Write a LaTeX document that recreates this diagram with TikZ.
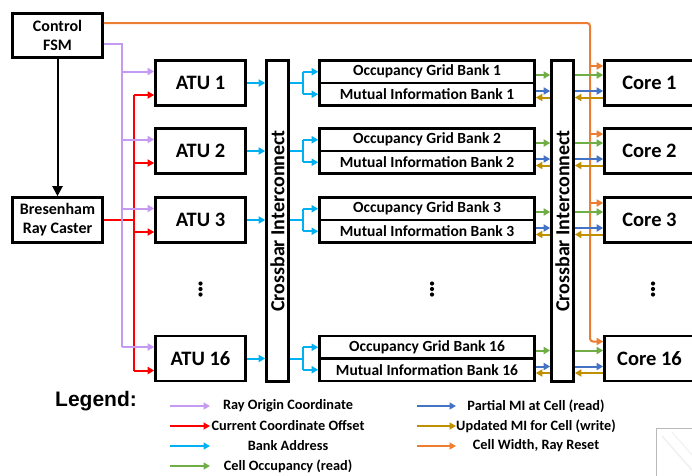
\documentclass[tikz,border=0pt]{standalone}
\usepackage{fontspec}
\setmainfont{Carlito}
\newfontfamily\legendfont{Liberation Sans}
\usetikzlibrary{arrows.meta,calc}

% signal colours
\definecolor{rayc}{HTML}{C49AF2}
\definecolor{offc}{HTML}{FF0000}
\definecolor{bankc}{HTML}{00B0F0}
\definecolor{occc}{HTML}{70AD47}
\definecolor{mibc}{HTML}{4472C4}
\definecolor{updc}{HTML}{BF9000}
\definecolor{rstc}{HTML}{ED7D31}

\begin{document}
\begin{tikzpicture}[x=1pt,y=-1pt,
  blk/.style={draw, line width=2.6pt, fill=white, inner sep=0pt,
              font=\bfseries\fontsize{20.5}{22}\selectfont},
  ctl/.style={blk, align=center, font=\bfseries\fontsize{16}{19}\selectfont},
  bankbox/.style={blk, minimum width=215, minimum height=22.5,
              font=\bfseries\fontsize{15.5}{17}\selectfont},
  xbar/.style={blk, minimum width=22, minimum height=321},
  xlabel/.style={rotate=90, font=\bfseries\fontsize{20}{21}\selectfont},
  sig/.style={line width=2pt},
  arr/.style={sig, -{Triangle[length=6.5pt,width=7pt]}},
  legtext/.style={font=\bfseries\fontsize{14.3}{16}\selectfont},
  dotmark/.style={fill=black, draw=none},
]
\clip (0,0) rectangle (692,475);
\useasboundingbox (0,0) rectangle (692,475);

% ---- control blocks
\node[ctl, minimum width=90, minimum height=44] (fsm) at (57.5,35.5) {Control\\FSM};
\node[ctl, minimum width=90, minimum height=45] (bres) at (57.5,220) {Bresenham\\Ray Caster};

% ---- address translation units
\foreach \k/\y in {1/83, 2/151, 3/220, 16/358.5} {
  \node[blk, minimum width=90, minimum height=45] (atu\k) at (200.5,\y) {ATU \k};
}

% ---- crossbars
\node[xbar] (xb1) at (277.5,221) {};
\node[xlabel] at (xb1.center) {Crossbar Interconnect};
\node[xbar] (xb2) at (562.5,221) {};
\node[xlabel] at (xb2.center) {Crossbar Interconnect};

% ---- memory banks and cores
\foreach \k/\y in {1/83, 2/151, 3/220, 16/358.5} {
  \node[bankbox] (og\k) at (427,\y-11.25) {Occupancy Grid Bank \k};
  \node[bankbox] (mi\k) at (427,\y+11.25) {Mutual Information Bank \k};
  \node[blk, minimum width=94, minimum height=45] (core\k) at (651.5,\y) {\hspace*{-4pt}Core \k};
}

% ---- cell width / ray reset (drawn first so other wires cross above it)
\foreach \k in {1,2,3,16}
  \coordinate (o\k) at ($(core\k.west)+(0,-17)$);
\coordinate (obus) at (590,0);
\draw[arr,rstc,rounded corners=3pt] ($(fsm.east)+(0,-12.5)$) -| (o16 -| obus) -- (o16);
\foreach \k in {1,2,3}
  \draw[arr,rstc] (o\k -| obus) -- (o\k);

% ---- FSM to ray caster
\draw[sig,-{Triangle[length=10pt,width=10pt]}] (fsm.south) -- (bres.north);

% ---- current coordinate offset bus
\coordinate (rbus) at (134,0);
\foreach \k in {1,2,3,16} {
  \coordinate (r\k) at ($(atu\k.west)+(0,12)$);
  \draw[arr,offc] (r\k -| rbus) -- (r\k);
}
\draw[sig,offc] (r1 -| rbus) -- (r16 -| rbus);
\draw[sig,offc] (bres.east) -- (bres.east -| rbus);

% ---- ray origin bus
\coordinate (pbus) at (122,0);
\foreach \k in {1,2,3,16} {
  \coordinate (p\k) at ($(atu\k.west)+(0,-11.5)$);
  \draw[arr,rayc] (p\k -| pbus) -- (p\k);
}
\draw[sig,rayc] ($(fsm.east)+(0,8.5)$) -| (p16 -| pbus);

% ---- bank addresses
\foreach \k in {1,2,3,16} {
  \draw[arr,bankc] (atu\k.east) -- (atu\k.east -| xb1.west);
  \draw[sig,bankc] (atu\k.east -| xb1.east) -- ++(13,0) coordinate (s\k);
  \draw[sig,bankc] (s\k |- og\k.west) -- (s\k |- mi\k.west);
  \draw[arr,bankc] (s\k |- og\k.west) -- (og\k.west);
  \draw[arr,bankc] (s\k |- mi\k.west) -- (mi\k.west);
}

% ---- bank data to and from cores
\foreach \k in {1,2,3,16} {
  \coordinate (g\k) at ($(atu\k.center)+(0,-8)$);
  \draw[arr,occc] (g\k -| og\k.east) -- (g\k -| xb2.west);
  \draw[arr,occc] (g\k -| xb2.east) -- (g\k -| core\k.west);
  \coordinate (b\k) at ($(atu\k.center)+(0,8)$);
  \draw[arr,mibc] (b\k -| mi\k.east) -- (b\k -| xb2.west);
  \draw[arr,mibc] (b\k -| xb2.east) -- (b\k -| core\k.west);
  \coordinate (u\k) at ($(atu\k.center)+(0,14.5)$);
  \draw[arr,updc] (u\k -| xb2.west) -- (u\k -| mi\k.east);
  \draw[arr,updc] (u\k -| core\k.west) -- (u\k -| xb2.east);
}

% ---- elision dots
\foreach \x in {200.5,432,653}
  \foreach \y in {283.5,289,294.5}
    \fill[dotmark] (\x,\y) circle (2.1);

% ---- legend
\node[font=\legendfont\bfseries\fontsize{21}{23}\selectfont] (legend) at (96,401) {Legend:};
\foreach \i/\c/\y/\t in {1/rayc/406/Ray Origin Coordinate,
                         2/offc/426/Current Coordinate Offset,
                         3/bankc/446/Bank Address,
                         4/occc/466/Cell Occupancy (read)} {
  \coordinate (la\i) at (170,\y);
  \coordinate (lb\i) at (210,\y);
  \draw[arr,\c] (la\i) -- (lb\i);
  \node[legtext] (lt\i) at (288,\y) {\t};
}
\foreach \i/\c/\y/\t in {5/mibc/406/Partial MI at Cell (read),
                         6/updc/426/Updated MI for Cell (write),
                         7/rstc/446/{Cell Width, Ray Reset}} {
  \coordinate (la\i) at (417,\y);
  \coordinate (lb\i) at (456,\y);
  \draw[arr,\c] (la\i) -- (lb\i);
  \node[legtext] (lt\i) at (536,\y) {\t};
}

% ---- edge of a neighbouring panel
\draw[gray!55, line width=1pt] (656.5,428.5) rectangle (700,480);
\draw[gray!12, line width=1.5pt] (662,436) -- (692,470);
\draw[gray!12, line width=1pt] (672,432) -- (692,455);
\end{tikzpicture}
\end{document}
